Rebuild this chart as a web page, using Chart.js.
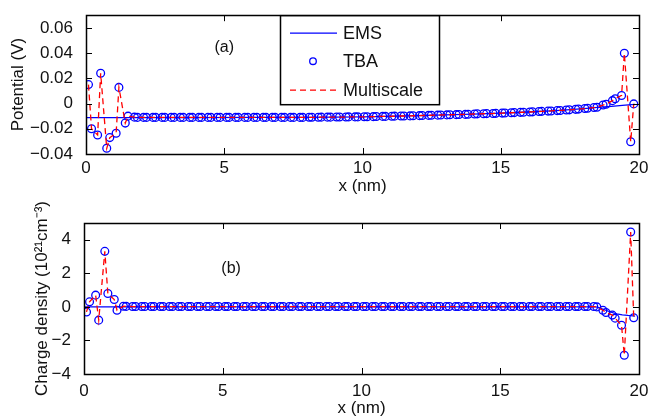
<!DOCTYPE html>
<html>
<head>
<meta charset="utf-8">
<script src="https://cdn.jsdelivr.net/npm/chart.js@4/dist/chart.umd.min.js"></script>
<style>
  body { margin: 0; background: #fff; }
  #wrap { position: relative; width: 650px; height: 417px; }
  #ca { position: absolute; left: 0; top: 0; }
  #cb { position: absolute; left: 0; top: 200px; }
</style>
</head>
<body>
<div id="wrap">
  <canvas id="ca" width="650" height="200"></canvas>
  <canvas id="cb" width="650" height="217"></canvas>
</div>
<script>
// atom positions along x (nm)
var xAtoms = [
  0.09,0.20, 0.42,0.53, 0.75,0.86, 1.09,1.19, 1.42,1.52, 1.75,1.86, 2.08,2.19, 2.42,2.52, 2.75,2.85, 3.08,3.19,
  3.41,3.52, 3.75,3.85, 4.08,4.18, 4.41,4.52, 4.74,4.85, 5.08,5.18, 5.41,5.51, 5.74,5.85, 6.07,6.18, 6.41,6.51,
  6.74,6.84, 7.07,7.18, 7.40,7.51, 7.74,7.84, 8.07,8.17, 8.40,8.51, 8.73,8.84, 9.06,9.17, 9.40,9.50, 9.73,9.83,
  10.06,10.17, 10.39,10.50, 10.73,10.83, 11.06,11.16, 11.39,11.50, 11.72,11.83, 12.06,12.16, 12.39,12.49, 12.72,12.83, 13.05,13.16,
  13.39,13.49, 13.72,13.82, 14.05,14.15, 14.38,14.49, 14.72,14.82, 15.05,15.15, 15.38,15.49, 15.71,15.82, 16.05,16.15, 16.38,16.48,
  16.71,16.82, 17.04,17.15, 17.37,17.48, 17.71,17.81, 18.04,18.14, 18.37,18.48, 18.70,18.81, 19.04,19.14, 19.37,19.47, 19.70,19.81
];

// (a) potential, TBA at atoms (V)
var tbaA = [
  0.015,-0.020, -0.025,0.024, -0.0355,-0.027, -0.0235,0.0128, -0.0155,-0.0100, -0.0108,-0.0110, -0.0110,-0.0110, -0.0110,-0.0110, -0.0110,-0.0110, -0.0110,-0.0110,
  -0.0110,-0.0110, -0.0110,-0.0110, -0.0110,-0.0110, -0.0110,-0.0110, -0.0110,-0.0110, -0.0110,-0.0110, -0.0110,-0.0110, -0.0110,-0.0110, -0.0110,-0.0110, -0.0110,-0.0110,
  -0.0110,-0.0110, -0.0110,-0.0110, -0.0110,-0.0110, -0.0110,-0.0110, -0.0109,-0.0109, -0.0109,-0.0108, -0.0108,-0.0108, -0.0107,-0.0107, -0.0107,-0.0106, -0.0106,-0.0106,
  -0.0105,-0.0105, -0.0104,-0.0103, -0.0102,-0.0102, -0.0101,-0.0100, -0.0099,-0.0099, -0.0098,-0.0097, -0.0096,-0.0095, -0.0094,-0.0093, -0.0092,-0.0091, -0.0090,-0.0089,
  -0.0088,-0.0087, -0.0086,-0.0085, -0.0083,-0.0082, -0.0081,-0.0080, -0.0079,-0.0078, -0.0076,-0.0075, -0.0073,-0.0072, -0.0070,-0.0069, -0.0067,-0.0066, -0.0063,-0.0062,
  -0.0060,-0.0059, -0.0056,-0.0055, -0.0051,-0.0050, -0.0046,-0.0044, -0.0040,-0.0038, -0.0032,-0.0029, -0.0012,-0.0006, 0.0023,0.0038, 0.0064,0.0398, -0.0303,-0.0003
];
// multiscale sits on the TBA circles in the picture
var multiA = tbaA.slice();

// EMS continuum curve (a)
var emsXA = [0, 2, 4, 6, 8, 10, 12, 14, 15, 16, 17, 18, 18.5, 19, 19.5, 19.86];
var emsA = [-0.0111, -0.0111, -0.0111, -0.0110, -0.0109, -0.0105, -0.0096, -0.0084, -0.0076, -0.0067, -0.0057, -0.0041, -0.0030, -0.0022, -0.0013, -0.0006];

// (b) charge density, 10^21 cm^-3
var tbaB = [
  -0.30,0.30, 0.70,-0.79, 3.31,0.80, 0.44,-0.20, 0.04,0.03, 0.02,0.02, 0.02,0.02, 0.02,0.02, 0.02,0.02, 0.02,0.02,
  0.02,0.02, 0.02,0.02, 0.02,0.02, 0.02,0.02, 0.02,0.02, 0.02,0.02, 0.02,0.02, 0.02,0.02, 0.02,0.02, 0.02,0.02,
  0.02,0.02, 0.02,0.02, 0.02,0.02, 0.02,0.02, 0.02,0.02, 0.02,0.02, 0.02,0.02, 0.02,0.02, 0.02,0.02, 0.02,0.02,
  0.02,0.02, 0.02,0.02, 0.02,0.02, 0.02,0.02, 0.02,0.02, 0.02,0.02, 0.02,0.02, 0.02,0.02, 0.02,0.02, 0.02,0.02,
  0.02,0.02, 0.02,0.02, 0.02,0.02, 0.02,0.02, 0.02,0.02, 0.02,0.02, 0.02,0.02, 0.02,0.02, 0.02,0.02, 0.02,0.02,
  0.02,0.02, 0.02,0.02, 0.02,0.02, 0.02,0.02, 0.02,0.02, 0.02,0.00, -0.20,-0.33, -0.49,-0.67, -1.09,-2.88, 4.46,-0.65
];
var multiB = tbaB.slice();

var emsXB = [0, 18.45, 18.6, 18.8, 19.0, 19.2, 19.4, 19.6, 19.86];
var emsB = [0, 0, -0.07, -0.20, -0.32, -0.42, -0.47, -0.51, -0.55];

var xTicks = [0, 5, 10, 15, 20];
var potTicks = [-0.04, -0.02, 0, 0.02, 0.04, 0.06];
var rhoTicks = [-4, -2, 0, 2, 4];

var legendNames = ['EMS', 'TBA', 'Multiscale'];

Chart.defaults.font.family = "'Liberation Sans', Arial, Helvetica, sans-serif";
Chart.defaults.font.size = 17;
Chart.defaults.color = '#111';

function pts(xs, ys) {
  return xs.map(function(x, i) { return {x: x, y: ys[i]}; });
}

function minus(s) { return String(s).replace('-', '\u2212'); }

// MATLAB style frame with inward ticks on all sides
var framePlugin = {
  id: 'frame',
  afterDraw: function(chart) {
    var c = chart.ctx, a = chart.chartArea;
    var xs = chart.scales.x, ys = chart.scales.y;
    c.save();
    c.strokeStyle = '#000';
    c.lineWidth = 1;
    c.beginPath();
    xs.ticks.forEach(function(t) {
      var p = Math.round(xs.getPixelForValue(t.value)) + 0.5;
      c.moveTo(p, a.bottom); c.lineTo(p, a.bottom - 6);
      c.moveTo(p, a.top); c.lineTo(p, a.top + 6);
    });
    ys.ticks.forEach(function(t) {
      var p = Math.round(ys.getPixelForValue(t.value)) + 0.5;
      c.moveTo(a.left, p); c.lineTo(a.left + 6, p);
      c.moveTo(a.right, p); c.lineTo(a.right - 6, p);
    });
    c.stroke();
    c.lineWidth = 1.5;
    c.strokeRect(Math.round(a.left) + 0.5, Math.round(a.top) + 0.5, Math.round(a.right - a.left), Math.round(a.bottom - a.top));
    // panel tag
    var tag = chart.options.plugins.frame;
    c.fillStyle = '#111';
    c.font = "16px 'Liberation Sans', Arial, sans-serif";
    c.textAlign = 'center';
    c.textBaseline = 'middle';
    c.fillText(tag.label, xs.getPixelForValue(tag.x), ys.getPixelForValue(tag.y));
    c.restore();
  }
};

var legendPlugin = {
  id: 'boxLegend',
  afterDraw: function(chart) {
    var c = chart.ctx, a = chart.chartArea;
    var bx = 280, by = a.top, bw = 159, bh = 89;
    c.save();
    c.fillStyle = '#fff';
    c.fillRect(bx, by, bw, bh);
    c.strokeStyle = '#000';
    c.lineWidth = 1.5;
    c.strokeRect(bx + 0.5, by + 0.5, bw, bh);
    var rows = [by + 18, by + 46, by + 75];
    c.lineWidth = 1.3;
    // EMS
    c.strokeStyle = '#0000ff';
    c.beginPath(); c.moveTo(290, rows[0]); c.lineTo(337, rows[0]); c.stroke();
    // TBA
    c.beginPath(); c.arc(313, rows[1], 3.3, 0, Math.PI * 2); c.stroke();
    // Multiscale
    c.strokeStyle = '#ff0000';
    c.setLineDash([6, 4]);
    c.beginPath(); c.moveTo(290, rows[2]); c.lineTo(337, rows[2]); c.stroke();
    c.setLineDash([]);
    c.fillStyle = '#111';
    c.font = "18px 'Liberation Sans', Arial, sans-serif";
    c.textAlign = 'left';
    c.textBaseline = 'middle';
    legendNames.forEach(function(n, i) { c.fillText(n, 343, rows[i] + 1); });
    c.restore();
  }
};

function makeChart(id, o) {
  return new Chart(document.getElementById(id), {
    type: 'line',
    data: {
      datasets: [
        {
          label: 'Multiscale', data: pts(xAtoms, o.multi), order: 0,
          borderColor: '#ff0000', borderWidth: 1.3, borderDash: [6, 4],
          pointRadius: 0, fill: false, tension: 0
        },
        {
          label: 'TBA', data: pts(xAtoms, o.tba), order: 1, showLine: false,
          borderColor: '#0000ff', backgroundColor: 'rgba(0,0,0,0)', borderWidth: 1.3,
          pointRadius: 3.9, pointBorderWidth: 1.3, pointStyle: 'circle'
        },
        {
          label: 'EMS', data: pts(o.emsX, o.ems), order: 2,
          borderColor: '#0000ff', borderWidth: 1.3, pointRadius: 0, fill: false, tension: 0
        }
      ]
    },
    options: {
      responsive: false,
      animation: false,
      events: [],
      layout: { padding: { left: 0, right: 11, top: o.top, bottom: 0 } },
      plugins: {
        legend: { display: false },
        tooltip: { enabled: false },
        frame: o.tag
      },
      scales: {
        x: {
          type: 'linear', min: 0, max: 20,
          grid: { display: false }, border: { display: false },
          afterBuildTicks: function(s) { s.ticks = xTicks.map(function(v) { return {value: v}; }); },
          afterFit: function(s) { s.height = o.xh; },
          ticks: { padding: o.tickPad, maxRotation: 0, callback: function(v) { return String(v); } },
          title: { display: true, text: 'x (nm)', padding: { top: 0, bottom: o.titlePad } }
        },
        y: {
          type: 'linear', min: o.ymin, max: o.ymax,
          grid: { display: false }, border: { display: false },
          afterBuildTicks: function(s) { s.ticks = o.yTicks.map(function(v) { return {value: v}; }); },
          afterFit: function(s) { s.width = o.yw; },
          ticks: { padding: 5, callback: o.fmt },
          title: { display: true, text: o.ytitle, padding: { top: o.ytPad, bottom: 0 } }
        }
      }
    },
    plugins: o.extra
  });
}

makeChart('ca', {
  tba: tbaA, multi: multiA, emsX: emsXA, ems: emsA,
  top: 12, xh: 46, yw: 86, tickPad: -4, titlePad: 3, ytPad: 8,
  ymin: -0.04, ymax: 0.07, yTicks: potTicks,
  fmt: function(v) { return v === 0 ? '0' : minus(v.toFixed(2)); },
  ytitle: 'Potential (V)',
  tag: { label: '(a)', x: 5, y: 0.044 },
  extra: [framePlugin, legendPlugin]
});

makeChart('cb', {
  tba: tbaB, multi: multiB, emsX: emsXB, ems: emsB,
  top: 23, xh: 43, yw: 84, tickPad: -1, titlePad: -2, ytPad: 32,
  ymin: -4, ymax: 5, yTicks: rhoTicks,
  fmt: function(v) { return minus(v); },
  ytitle: 'Charge density (10\u00b2\u00b9cm\u207b\u00b3)',
  tag: { label: '(b)', x: 5.3, y: 2.3 },
  extra: [framePlugin]
});
</script>
</body>
</html>
